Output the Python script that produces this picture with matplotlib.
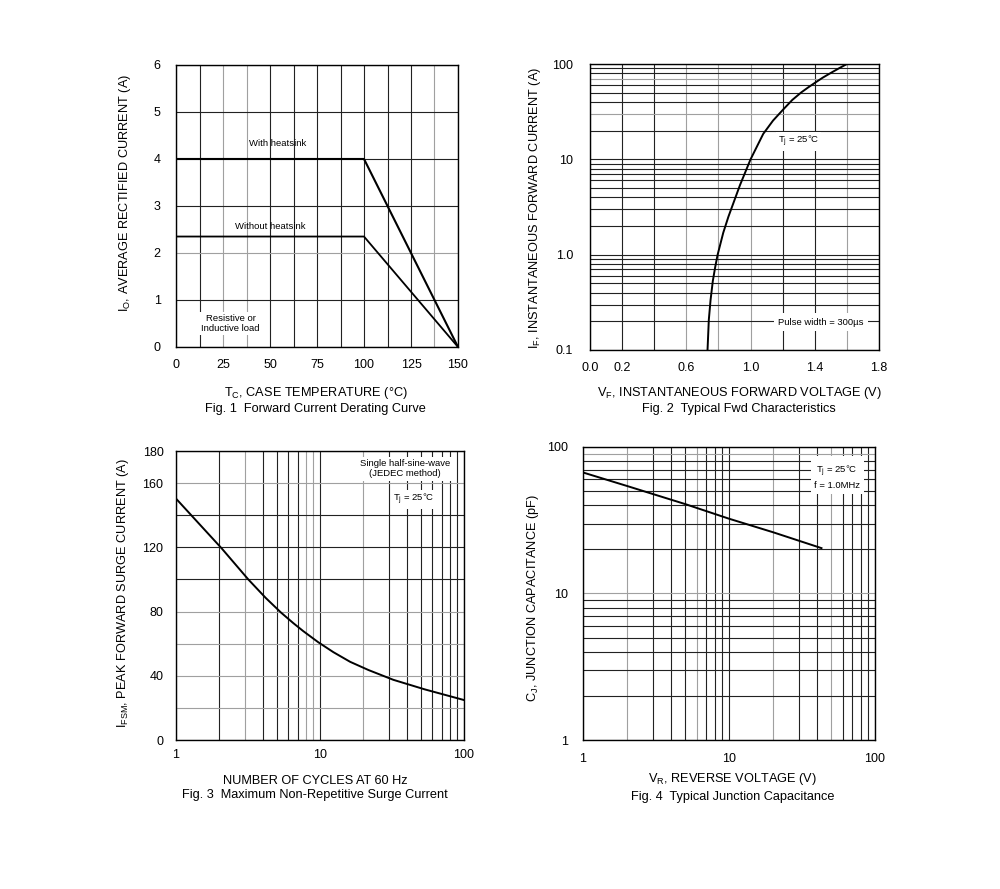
import numpy as np
import matplotlib
matplotlib.use("Agg")
from matplotlib import pyplot as plt
from matplotlib.ticker import MultipleLocator, FixedLocator, LogLocator, NullFormatter, FixedFormatter

plt.rcParams['font.family'] = ['Liberation Sans', 'DejaVu Sans']
plt.rcParams['font.size'] = 9.2

# Fig 1 - derating curve
tc_heatsink = [0, 100, 150]
io_heatsink = [4.0, 4.0, 0.0]
tc_noheatsink = [0, 100, 150]
io_noheatsink = [2.35, 2.35, 0.0]

# Fig 2 - forward characteristics
vf = [0.732, 0.74, 0.751, 0.765, 0.78, 0.795, 0.83, 0.862, 0.934, 1.0, 1.079,
      1.14, 1.206, 1.26, 1.316, 1.36, 1.404, 1.45, 1.502, 1.55, 1.60]
if_ = [0.1, 0.207, 0.336, 0.53, 0.745, 1.0, 1.7, 2.5, 5.36, 10, 18.5,
       25.5, 33.7, 42, 50.4, 57, 64, 72, 81, 90, 100]

# Fig 3 - surge current
cycles = [1, 2.08, 3.18, 4.2, 5.36, 6.53, 7.66, 9.73, 12.4, 16.2, 21.7, 32.3, 53.6, 100]
ifsm = [150.4, 119.3, 100, 88.5, 79.4, 72.8, 67.8, 60.9, 54.7, 48.7, 43.6, 37.5, 31.5, 24.9]

# Fig 4 - junction capacitance
vr = [1, 2, 5, 10, 20, 43]
cj = [67, 54.2, 40.8, 32.4, 26.2, 20.4]


def shade(axis, values, color='#a0a0a0'):
    # some grid lines in the scan are lighter grey
    for locs, getter in ((axis.get_majorticklocs(), axis.get_major_ticks),
                         (axis.get_minorticklocs(), axis.get_minor_ticks)):
        for loc, t in zip(locs, getter(len(locs))):
            if any(np.isclose(loc, v) for v in values):
                t.gridline.set_color(color)


fig = plt.figure(figsize=(10, 8.89), dpi=100)

ax1 = fig.add_axes([0.176, 0.6097, 0.282, 0.3172])
ax2 = fig.add_axes([0.590, 0.6063, 0.289, 0.3217])
ax3 = fig.add_axes([0.176, 0.1676, 0.288, 0.3250])
ax4 = fig.add_axes([0.583, 0.1676, 0.292, 0.3296])

for ax in (ax1, ax2, ax3, ax4):
    for s in ax.spines.values():
        s.set_linewidth(1.0)
        s.set_color('black')
    ax.tick_params(which='both', length=0, labelsize=9)
    ax.set_axisbelow(True)

gkw = dict(color='#222222', linewidth=0.8)
note = dict(fontsize=6.8, ha='center', va='center')
wbox = dict(facecolor='white', edgecolor='none', pad=1.5)

# ---- Fig 1
ax1.plot(tc_heatsink, io_heatsink, color='black', lw=1.5)
ax1.plot(tc_noheatsink, io_noheatsink, color='black', lw=1.3)
ax1.set_xlim(0, 150)
ax1.set_ylim(0, 6)
ax1.xaxis.set_major_locator(MultipleLocator(25))
ax1.xaxis.set_minor_locator(MultipleLocator(12.5))
ax1.yaxis.set_major_locator(MultipleLocator(1))
ax1.grid(which='both', **gkw)
shade(ax1.xaxis, [25, 37.5, 137.5])
shade(ax1.yaxis, [2])
ax1.tick_params(axis='y', pad=11)
ax1.tick_params(axis='x', pad=8.5)
ax1.text(54, 4.32, 'With heatsink', **note)
ax1.text(50, 2.57, 'Without heatsink', **note)
ax1.text(29, 0.5, 'Resistive or\nInductive load', bbox=wbox, **note)
fig.text(0.125, 0.7826, 'I$_\\mathregular{O}$, AVERAGE RECTIFIED CURRENT (A)',
         rotation=90, ha='center', va='center')
fig.text(0.3158, 0.5583, 'T$_\\mathregular{C}$, CASE TEMPERATURE (°C)', ha='center', va='center')
fig.text(0.3155, 0.5396, 'Fig. 1  Forward Current Derating Curve', ha='center', va='center')

# ---- Fig 2
ax2.plot(vf, if_, color='black', lw=1.4)
ax2.set_yscale('log')
ax2.set_xlim(0, 1.8)
ax2.set_ylim(0.1, 100)
ax2.xaxis.set_major_locator(FixedLocator(np.arange(0, 1.81, 0.2)))
ax2.xaxis.set_major_formatter(FixedFormatter(['0.0', '0.2', '', '0.6', '', '1.0', '', '1.4', '', '1.8']))
ax2.yaxis.set_major_locator(FixedLocator([0.1, 1, 10, 100]))
ax2.yaxis.set_major_formatter(FixedFormatter(['0.1', '1.0', '10', '100']))
ax2.yaxis.set_minor_locator(LogLocator(base=10, subs=np.arange(2, 10)))
ax2.yaxis.set_minor_formatter(NullFormatter())
ax2.grid(which='both', **gkw)
shade(ax2.xaxis, [0.6, 0.8, 1.0, 1.6])
shade(ax2.yaxis, [30, 70])
ax2.tick_params(axis='y', pad=12)
ax2.tick_params(axis='x', pad=9)
ax2.text(1.3, 15.4, 'T$_\\mathregular{j}$ = 25°C', bbox=wbox, **note)
ax2.text(1.44, 0.196, 'Pulse width = 300µs', bbox=dict(facecolor='white', edgecolor='none', pad=3), **note)
fig.text(0.535, 0.766, 'I$_\\mathregular{F}$, INSTANTANEOUS FORWARD CURRENT (A)',
         rotation=90, ha='center', va='center')
fig.text(0.7393, 0.5583, 'V$_\\mathregular{F}$, INSTANTANEOUS FORWARD VOLTAGE (V)', ha='center', va='center')
fig.text(0.739, 0.5399, 'Fig. 2  Typical Fwd Characteristics', ha='center', va='center')

# ---- Fig 3
ax3.plot(cycles, ifsm, color='black', lw=1.4)
ax3.set_xscale('log')
ax3.set_xlim(1, 100)
ax3.set_ylim(0, 180)
ax3.xaxis.set_major_locator(FixedLocator([1, 10, 100]))
ax3.xaxis.set_major_formatter(FixedFormatter(['1', '10', '100']))
ax3.xaxis.set_minor_locator(LogLocator(base=10, subs=np.arange(2, 10)))
ax3.xaxis.set_minor_formatter(NullFormatter())
ax3.yaxis.set_major_locator(FixedLocator(np.arange(0, 181, 20)))
ax3.yaxis.set_major_formatter(FixedFormatter(['0', '', '40', '', '80', '', '120', '', '160', '180']))
ax3.grid(which='both', **gkw)
shade(ax3.xaxis, [3, 8, 9, 20])
shade(ax3.yaxis, [20, 40, 60, 80, 160])
ax3.tick_params(axis='y', pad=9)
ax3.tick_params(axis='x', pad=6.5)
ax3.text(39, 169, 'Single half-sine-wave\n(JEDEC method)', bbox=wbox, **note)
ax3.text(45, 150, 'T$_\\mathregular{j}$ = 25°C', bbox=wbox, **note)
fig.text(0.1233, 0.333, 'I$_\\mathregular{FSM}$, PEAK FORWARD SURGE CURRENT (A)',
         rotation=90, ha='center', va='center')
fig.text(0.3153, 0.1218, 'NUMBER OF CYCLES AT 60 Hz', ha='center', va='center')
fig.text(0.3153, 0.1057, 'Fig. 3  Maximum Non-Repetitive Surge Current', ha='center', va='center')

# ---- Fig 4
ax4.plot(vr, cj, color='black', lw=1.4)
ax4.set_xscale('log')
ax4.set_yscale('log')
ax4.set_xlim(1, 100)
ax4.set_ylim(1, 100)
for a in (ax4.xaxis, ax4.yaxis):
    a.set_major_locator(FixedLocator([1, 10, 100]))
    a.set_major_formatter(FixedFormatter(['1', '10', '100']))
    a.set_minor_locator(LogLocator(base=10, subs=np.arange(2, 10)))
    a.set_minor_formatter(NullFormatter())
ax4.grid(which='both', **gkw)
shade(ax4.xaxis, [2, 6, 20, 50])
shade(ax4.yaxis, [10, 90])
ax4.tick_params(axis='y', pad=11)
ax4.tick_params(axis='x', pad=9)
ax4.text(55, 62.5, 'T$_\\mathregular{j}$ = 25°C\nf = 1.0MHz', bbox=dict(facecolor='white', edgecolor='none', pad=2.5),
         linespacing=1.4, **note)
fig.text(0.533, 0.327, 'C$_\\mathregular{J}$, JUNCTION CAPACITANCE (pF)',
         rotation=90, ha='center', va='center')
fig.text(0.7325, 0.1237, 'V$_\\mathregular{R}$, REVERSE VOLTAGE (V)', ha='center', va='center')
fig.text(0.7325, 0.1035, 'Fig. 4  Typical Junction Capacitance', ha='center', va='center')

fig.savefig('out.png', dpi=100)
